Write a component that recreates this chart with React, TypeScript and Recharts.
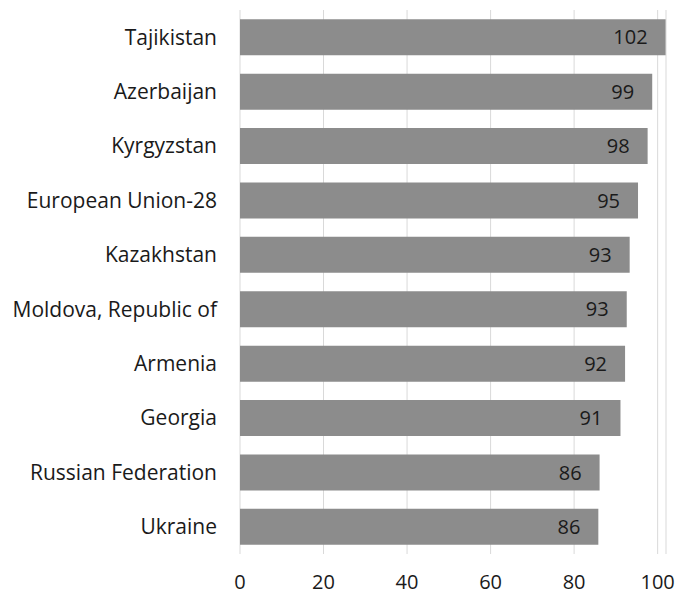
import React from "react";
import {
  BarChart,
  Bar,
  XAxis,
  YAxis,
  CartesianGrid,
  LabelList,
} from "recharts";

const countries = [
  "Tajikistan",
  "Azerbaijan",
  "Kyrgyzstan",
  "European Union-28",
  "Kazakhstan",
  "Moldova, Republic of",
  "Armenia",
  "Georgia",
  "Russian Federation",
  "Ukraine",
];

const values = [101.9, 98.7, 97.6, 95.3, 93.3, 92.6, 92.2, 91.1, 86.1, 85.8];

const xTicks = [0, 20, 40, 60, 80, 100];

const data = countries.map((name, i) => ({ name, value: values[i] }));

const font = "'Open Sans', 'Liberation Sans', sans-serif";

export default function App() {
  return (
    <div style={{ position: "absolute", left: 0, top: 0 }}>
      <BarChart
        width={677}
        height={597}
        layout="vertical"
        data={data}
        margin={{ top: 10, right: 11, left: 0, bottom: 11 }}
        barCategoryGap="17%"
      >
        <CartesianGrid horizontal={false} stroke="#d9d9d9" />
        <XAxis
          type="number"
          domain={[0, 102]}
          ticks={xTicks}
          axisLine={false}
          tickLine={false}
          tick={{ fill: "#1a1a1a", fontSize: 20, fontFamily: font }}
          tickMargin={15}
          height={32}
        />
        <YAxis
          type="category"
          dataKey="name"
          width={240}
          axisLine={false}
          tickLine={false}
          tick={{ fill: "#1a1a1a", fontSize: 21, fontFamily: font }}
          tickMargin={17}
        />
        <Bar dataKey="value" fill="#8c8c8c" isAnimationActive={false}>
          <LabelList
            dataKey="value"
            position="insideRight"
            offset={18}
            formatter={(v: number) => Math.round(v)}
            style={{ fill: "#1a1a1a", fontSize: 20, fontFamily: font }}
          />
        </Bar>
      </BarChart>
    </div>
  );
}
